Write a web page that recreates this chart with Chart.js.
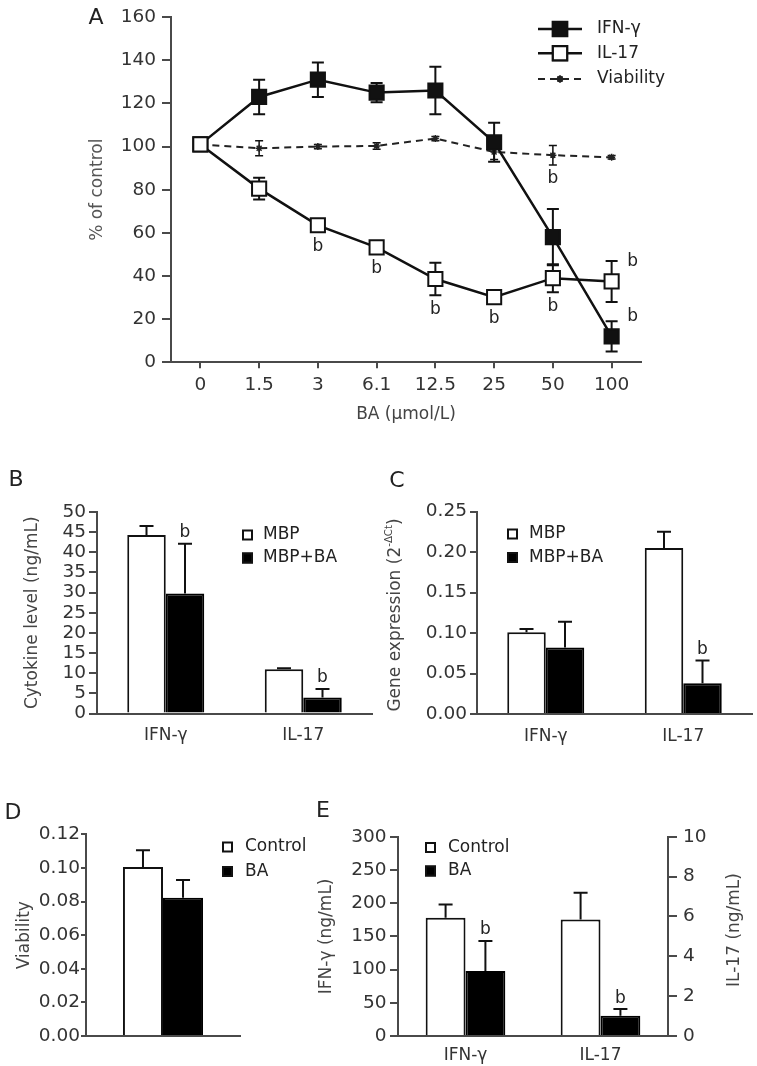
<!DOCTYPE html>
<html><head><meta charset="utf-8">
<script src="https://cdn.jsdelivr.net/npm/chart.js@4.4.0/dist/chart.umd.min.js"></script>
<style>
html,body{margin:0;padding:0;background:#fff;}
#wrap{position:relative;width:757px;height:1066px;overflow:hidden;background:#fff;}
#wrap canvas{position:absolute;left:0;top:0;width:757px;height:1066px;}
</style></head><body><div id="wrap">
<canvas id="cA" width="757" height="1066"></canvas>
<canvas id="cB" width="757" height="1066"></canvas>
<canvas id="cC" width="757" height="1066"></canvas>
<canvas id="cD" width="757" height="1066"></canvas>
<canvas id="cE" width="757" height="1066"></canvas>
</div>
<script>
// ---------- Panel A: % of control vs BA dose ----------
const doseLabels = ['0', '1.5', '3', '6.1', '12.5', '25', '50', '100'];
const ifnPct      = [101, 123, 131, 125, 126, 102, 58, 12];
const ifnPctErr   = [0, 8, 8, 4.5, 11, 9, 13, 7];
const ifnSig      = [false, false, false, false, false, false, false, true];
const il17Pct     = [101, 80.5, 63.5, 53.3, 38.6, 30.2, 39, 37.5];
const il17PctErr  = [0, 5, 2, 0, 7.5, 0, 6.5, 9.5];
const il17Sig     = [false, false, true, true, true, true, true, true];
const viaPct      = [101, 99.2, 100, 100.3, 103.7, 97.5, 96, 95];
const viaPctErr   = [0, 3.5, 1, 1.5, 1, 3.5, 4.5, 0.8];
const viaSig      = [false, false, false, false, false, false, true, false];

// ---------- Panel B: cytokine level (ng/mL) ----------
const cytoLabels  = ['IFN-γ', 'IL-17'];
const bMBP        = [44.3, 11.0];
const bMBPErr     = [2.2, 0.2];
const bMBPBA      = [29.8, 4.0];
const bMBPBAErr   = [12.3, 2.1];
const bSig        = [true, true];

// ---------- Panel C: gene expression ----------
const cMBP        = [0.101, 0.205];
const cMBPErr     = [0.004, 0.020];
const cMBPBA      = [0.082, 0.038];
const cMBPBAErr   = [0.032, 0.028];
const cSig        = [false, true];

// ---------- Panel D: viability ----------
const dLabels     = [''];
const dControl    = [0.1005];
const dControlErr = [0.010];
const dBA         = [0.0823];
const dBAErr      = [0.0105];

// ---------- Panel E: IFN-γ (left axis) and IL-17 (right axis), ng/mL ----------
const eLabels     = ['IFN-γ', 'IL-17'];
const eControl    = [178, 5.85];
const eControlErr = [20, 1.34];
const eBA         = [98, 1.02];
const eBAErr      = [45, 0.33];
const eSig        = [true, true];

// ---------- common styling ----------
const FONT = '"DejaVu Sans", "Liberation Sans", sans-serif';
Chart.defaults.font.family = FONT;
Chart.defaults.font.size = 17;
Chart.defaults.color = '#333';
const AX = '#4a4a4a';
const INK = '#111';
const NUM = 18.5;

function gridStyle(tickLen, drawTicks) {
  return { display: true, drawOnChartArea: false, drawTicks: drawTicks, tickLength: tickLen, color: AX, tickColor: AX, lineWidth: 2 };
}
const borderStyle = { display: true, color: AX, width: 2 };

const errorBars = {
  id: 'errorBars',
  beforeDatasetDraw(chart, args) {
    const ds = chart.data.datasets[args.index];
    if (!ds.errors) return;
    const meta = chart.getDatasetMeta(args.index);
    const ys = chart.scales[meta.yAxisID];
    const ctx = chart.ctx;
    ctx.save();
    ctx.strokeStyle = ds.errColor || INK;
    ctx.lineWidth = ds.errWidth || 2;
    meta.data.forEach((el, i) => {
      const v = ds.data[i], e = ds.errors[i];
      if (v == null || e == null || e === 0) return;
      const x = el.x;
      const yTop = ys.getPixelForValue(v + e);
      const yBot = ds.errBoth ? ys.getPixelForValue(v - e) : ys.getPixelForValue(v);
      const c = (ds.errCap || 14) / 2;
      ctx.beginPath();
      ctx.moveTo(x, yTop); ctx.lineTo(x, yBot);
      ctx.moveTo(x - c, yTop); ctx.lineTo(x + c, yTop);
      if (ds.errBoth) { ctx.moveTo(x - c, yBot); ctx.lineTo(x + c, yBot); }
      ctx.stroke();
    });
    ctx.restore();
  }
};

const sigMarks = {
  id: 'sigMarks',
  afterDatasetsDraw(chart) {
    const ctx = chart.ctx;
    ctx.save();
    ctx.fillStyle = '#222';
    ctx.font = '17px ' + FONT;
    ctx.textAlign = 'center';
    ctx.textBaseline = 'middle';
    const isBar = chart.config.type === 'bar';
    chart.data.datasets.forEach((ds, di) => {
      if (!ds.sig) return;
      const meta = chart.getDatasetMeta(di);
      const ys = chart.scales[meta.yAxisID];
      meta.data.forEach((el, i) => {
        const v = ds.data[i];
        if (v == null || !ds.sig[i]) return;
        const e = (ds.errors && ds.errors[i]) || 0;
        let x, y;
        if (isBar) {
          x = el.x; y = ys.getPixelForValue(v + e) - 11;
        } else if (i === ds.data.length - 1) {
          x = el.x + 21; y = el.y - 20;
        } else {
          x = el.x; y = Math.max(ys.getPixelForValue(v - e), el.y + 7.5) + 14;
        }
        ctx.fillText('b', x, y);
      });
    });
    ctx.restore();
  }
};

function textItems(items) {
  return {
    id: 'textItems',
    afterDraw(chart) {
      const ctx = chart.ctx;
      items.forEach(it => {
        ctx.save();
        ctx.fillStyle = it.color || '#222';
        ctx.textBaseline = 'middle';
        ctx.translate(it.x, it.y);
        if (it.rot) ctx.rotate(it.rot);
        const size = it.size || 17;
        if (it.sup) {
          ctx.font = size + 'px ' + FONT;
          const w1 = ctx.measureText(it.text).width;
          const w3 = ctx.measureText(it.after).width;
          ctx.font = (size * 0.6) + 'px ' + FONT;
          const w2 = ctx.measureText(it.sup).width;
          let x0 = -(w1 + w2 + w3) / 2;
          ctx.textAlign = 'left';
          ctx.font = size + 'px ' + FONT;
          ctx.fillText(it.text, x0, 0);
          ctx.font = (size * 0.6) + 'px ' + FONT;
          ctx.fillText(it.sup, x0 + w1, -size * 0.38);
          ctx.font = size + 'px ' + FONT;
          ctx.fillText(it.after, x0 + w1 + w2, 0);
        } else {
          ctx.font = size + 'px ' + FONT;
          ctx.textAlign = it.align || 'center';
          ctx.fillText(it.text, 0, 0);
        }
        ctx.restore();
      });
    }
  };
}

function squareLegend(cfg) {
  return {
    id: 'squareLegend',
    afterDraw(chart) {
      const ctx = chart.ctx;
      ctx.save();
      cfg.indices.forEach((di, k) => {
        const ds = chart.data.datasets[di];
        const y = cfg.y + k * cfg.dy;
        const s = cfg.size;
        ctx.fillStyle = ds.backgroundColor;
        ctx.fillRect(cfg.x, y - s / 2, s, s);
        ctx.strokeStyle = INK;
        ctx.lineWidth = 2;
        ctx.strokeRect(cfg.x + 1, y - s / 2 + 1, s - 2, s - 2);
        ctx.fillStyle = '#222';
        ctx.font = '17px ' + FONT;
        ctx.textAlign = 'left';
        ctx.textBaseline = 'middle';
        ctx.fillText(ds.label, cfg.textX, y);
      });
      ctx.restore();
    }
  };
}

const lineLegend = {
  id: 'lineLegend',
  afterDraw(chart) {
    const ctx = chart.ctx;
    const x0 = 538, x1 = 582, xm = 560, tx = 597;
    const rows = [29, 53.3, 79];
    ctx.save();
    chart.data.datasets.forEach((ds, k) => {
      const y = rows[k];
      ctx.strokeStyle = ds.borderColor;
      ctx.lineWidth = ds.borderWidth;
      ctx.setLineDash(ds.borderDash || []);
      ctx.beginPath(); ctx.moveTo(x0, y); ctx.lineTo(x1, y); ctx.stroke();
      ctx.setLineDash([]);
      Chart.helpers.drawPoint(ctx, {
        pointStyle: ds.pointStyle, radius: ds.pointRadius, borderWidth: ds.pointBorderWidth, rotation: 0
      }, xm, y);
      ctx.fillStyle = ds.pointBackgroundColor;
      ctx.strokeStyle = ds.pointBorderColor;
      ctx.lineWidth = ds.pointBorderWidth;
      ctx.beginPath();
      Chart.helpers.drawPoint(ctx, { pointStyle: ds.pointStyle, radius: ds.pointRadius, borderWidth: ds.pointBorderWidth, rotation: 0 }, xm, y);
      ctx.fillStyle = '#222';
      ctx.font = '17px ' + FONT;
      ctx.textAlign = 'left';
      ctx.textBaseline = 'middle';
      ctx.fillText(ds.label, tx, y);
    });
    ctx.restore();
  }
};

const base = { responsive: false, animation: false, devicePixelRatio: 1, events: [] };

// ---------- Panel A ----------
new Chart(document.getElementById('cA'), {
  type: 'line',
  data: {
    labels: doseLabels,
    datasets: [
      { label: 'IFN-γ', data: ifnPct, errors: ifnPctErr, errBoth: true, errCap: 12, sig: ifnSig,
        borderColor: INK, backgroundColor: INK, borderWidth: 2.5, pointStyle: 'rect', pointRadius: 10,
        pointBorderWidth: 2, pointBackgroundColor: INK, pointBorderColor: INK, order: 2 },
      { label: 'IL-17', data: il17Pct, errors: il17PctErr, errBoth: true, errCap: 12, sig: il17Sig,
        borderColor: INK, backgroundColor: '#fff', borderWidth: 2.5, pointStyle: 'rect', pointRadius: 10,
        pointBorderWidth: 2, pointBackgroundColor: '#fff', pointBorderColor: INK, order: 1 },
      { label: 'Viability', data: viaPct, errors: viaPctErr, errBoth: true, errCap: 8, errWidth: 1.5, sig: viaSig,
        borderColor: '#222', backgroundColor: '#222', borderWidth: 2, borderDash: [7, 5], pointStyle: 'star',
        pointRadius: 3.5, pointBorderWidth: 1.5, pointBackgroundColor: '#222', pointBorderColor: '#222', order: 3 }
    ]
  },
  options: Object.assign({}, base, {
    layout: { padding: { left: 80, right: 116, top: 13.3, bottom: 1066 - 362.3 - 68 } },
    plugins: { legend: { display: false }, tooltip: { enabled: false } },
    scales: {
      x: { offset: true, grid: gridStyle(6, true), border: borderStyle,
           ticks: { padding: 6, color: '#333', font: { size: NUM } },
           title: { display: true, text: 'BA (μmol/L)', color: '#444', font: { size: 17 }, padding: { top: 6, bottom: 6 } },
           afterFit: s => { s.height = 68; } },
      y: { min: 0, max: 160, grid: gridStyle(9, true), border: borderStyle,
           ticks: { stepSize: 20, padding: 6, color: '#333', font: { size: NUM } },
           title: { display: true, text: '% of control', color: '#555', font: { size: 17 }, padding: { top: 7.8, bottom: 0 } },
           afterFit: s => { s.width = 91; } }
    }
  }),
  plugins: [errorBars, sigMarks, lineLegend, textItems([{ text: 'A', x: 96, y: 18, size: 22 }])]
});

// ---------- bar helper ----------
function barChart(id, labels, datasets, layout, yOpts, xOpts, extra, catPct) {
  return new Chart(document.getElementById(id), {
    type: 'bar',
    data: { labels: labels, datasets: datasets },
    options: Object.assign({}, base, {
      layout: { padding: layout },
      categoryPercentage: catPct, barPercentage: 1,
      plugins: { legend: { display: false }, tooltip: { enabled: false } },
      scales: Object.assign({ x: xOpts }, yOpts)
    }),
    plugins: [errorBars, sigMarks].concat(extra)
  });
}
function whiteBar(label, data, errs) {
  return { label: label, data: data, errors: errs, backgroundColor: '#fff', borderColor: INK, borderWidth: 2, errCap: 14 };
}
function blackBar(label, data, errs, sig) {
  return { label: label, data: data, errors: errs, sig: sig, backgroundColor: '#000', borderColor: '#000', borderWidth: 2, errCap: 14 };
}

// ---------- Panel B ----------
barChart('cB', cytoLabels,
  [whiteBar('MBP', bMBP, bMBPErr), blackBar('MBP+BA', bMBPBA, bMBPBAErr, bSig)],
  { left: 15, right: 385, top: 512, bottom: 1066 - 713.5 - 40 },
  { y: { min: 0, max: 50, grid: gridStyle(8, true), border: borderStyle,
         ticks: { stepSize: 5, padding: 3, autoSkip: false, color: '#333', font: { size: NUM } },
         title: { display: true, text: 'Cytokine level (ng/mL)', color: '#444', font: { size: 17 }, padding: { top: 7.8, bottom: 0 } },
         afterFit: s => { s.width = 82; } } },
  { grid: gridStyle(0, false), border: borderStyle, ticks: { padding: 12, color: '#333', font: { size: 17 } },
    afterFit: s => { s.height = 40; } },
  [squareLegend({ indices: [0, 1], x: 242, y: 535, dy: 23, size: 11, textX: 263 }),
   textItems([{ text: 'B', x: 16, y: 480, size: 22 }])],
  0.56);

// ---------- Panel C ----------
barChart('cC', cytoLabels,
  [whiteBar('MBP', cMBP, cMBPErr), blackBar('MBP+BA', cMBPBA, cMBPBAErr, cSig)],
  { left: 420, right: 5, top: 511.5, bottom: 1066 - 714 - 40 },
  { y: { min: 0, max: 0.25, grid: gridStyle(7, true), border: borderStyle,
         ticks: { stepSize: 0.05, padding: 3, autoSkip: false, color: '#333', font: { size: NUM }, callback: v => Number(v).toFixed(2) },
         afterFit: s => { s.width = 57; } } },
  { grid: gridStyle(0, false), border: borderStyle, ticks: { padding: 12, color: '#333', font: { size: 17 } },
    afterFit: s => { s.height = 40; } },
  [squareLegend({ indices: [0, 1], x: 507, y: 534, dy: 23.5, size: 11, textX: 529 }),
   textItems([{ text: 'C', x: 397, y: 481, size: 22 },
              { text: 'Gene expression (2', sup: '-ΔCt', after: ')', x: 396, y: 615, rot: -Math.PI / 2, size: 17, color: '#444' }])],
  0.56);

// ---------- Panel D ----------
barChart('cD', dLabels,
  [whiteBar('Control', dControl, dControlErr), blackBar('BA', dBA, dBAErr, null)],
  { left: 5, right: 757 - 240, top: 834.3, bottom: 1066 - 1036 - 10 },
  { y: { min: 0, max: 0.12, grid: gridStyle(5, true), border: borderStyle,
         ticks: { stepSize: 0.02, padding: 1, autoSkip: false, color: '#333', font: { size: NUM }, callback: v => Number(v).toFixed(2) },
         title: { display: true, text: 'Viability', color: '#444', font: { size: 17 }, padding: { top: 9.8, bottom: 0 } },
         afterFit: s => { s.width = 81; } } },
  { grid: gridStyle(0, false), border: borderStyle, ticks: { display: false },
    afterFit: s => { s.height = 10; } },
  [squareLegend({ indices: [0, 1], x: 222, y: 847, dy: 24.5, size: 11, textX: 245 }),
   textItems([{ text: 'D', x: 13, y: 813, size: 22 }])],
  0.52);

// ---------- Panel E ----------
const eDatasets = [
  Object.assign(whiteBar('Control', [eControl[0], null], [eControlErr[0], null]), { yAxisID: 'y', skipNull: true }),
  Object.assign(blackBar('BA', [eBA[0], null], [eBAErr[0], null], [eSig[0], false]), { yAxisID: 'y', skipNull: true }),
  Object.assign(whiteBar('Control', [null, eControl[1]], [null, eControlErr[1]]), { yAxisID: 'y2', skipNull: true }),
  Object.assign(blackBar('BA', [null, eBA[1]], [null, eBAErr[1]], [false, eSig[1]]), { yAxisID: 'y2', skipNull: true })
];
barChart('cE', eLabels, eDatasets,
  { left: 315, right: 0, top: 836.7, bottom: 0 },
  { y: { position: 'left', min: 0, max: 300, grid: gridStyle(8, true), border: borderStyle,
         ticks: { stepSize: 50, padding: 3.5, autoSkip: false, color: '#333', font: { size: NUM } },
         title: { display: true, text: 'IFN-γ (ng/mL)', color: '#444', font: { size: 17 }, padding: { top: 1.8, bottom: 0 } },
         afterFit: s => { s.width = 83; } },
    y2: { position: 'right', min: 0, max: 10, grid: gridStyle(9, true), border: borderStyle,
         ticks: { stepSize: 2, padding: 6, autoSkip: false, color: '#333', font: { size: NUM } },
         afterFit: s => { s.width = 89; } } },
  { grid: gridStyle(0, false), border: borderStyle, ticks: { padding: 9.5, color: '#333', font: { size: 17 } },
    afterFit: s => { s.height = 30; } },
  [squareLegend({ indices: [0, 1], x: 425, y: 847.5, dy: 23.5, size: 11, textX: 448 }),
   textItems([{ text: 'E', x: 323, y: 811, size: 22 },
              { text: 'IL-17 (ng/mL)', x: 735, y: 930, rot: -Math.PI / 2, size: 17, color: '#444' }])],
  0.59);
</script></body></html>
